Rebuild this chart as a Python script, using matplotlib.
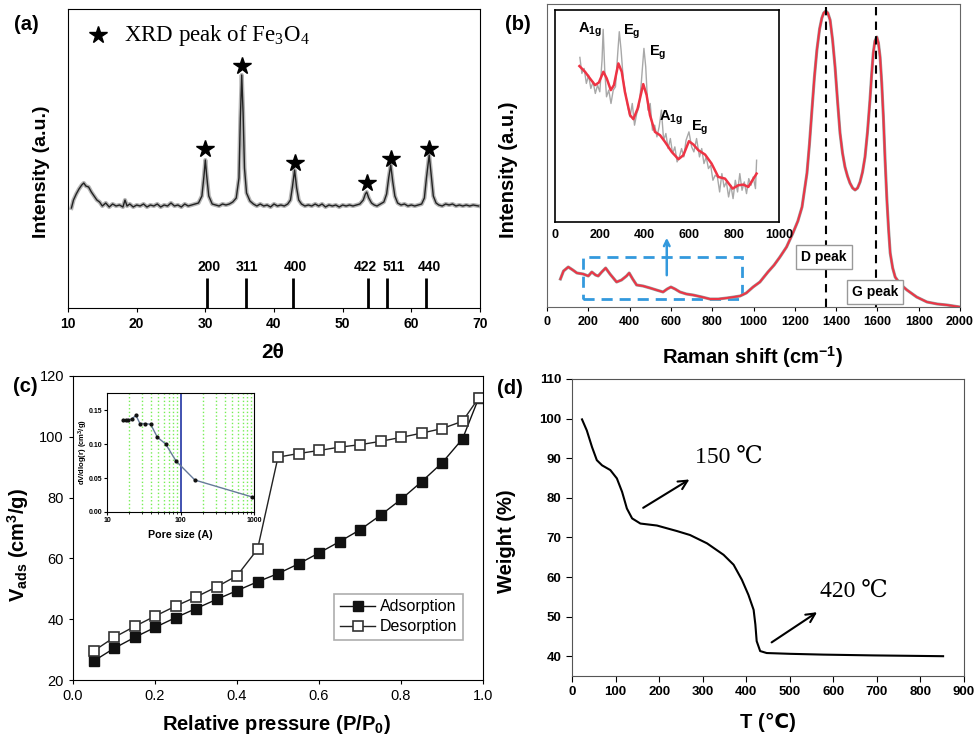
import matplotlib
matplotlib.use("Agg")
from matplotlib import pyplot as plt
from matplotlib.patches import Rectangle

plt.rcParams['font.family'] = ['Liberation Sans', 'DejaVu Sans']
plt.rcParams['mathtext.fontset'] = 'custom'
plt.rcParams['mathtext.rm'] = 'Liberation Serif'
plt.rcParams['mathtext.it'] = 'Liberation Serif:italic'
plt.rcParams['mathtext.bf'] = 'Liberation Sans:bold'

# (a) XRD
xrd_2theta = [10.5, 10.8, 11.2, 11.6, 12.0, 12.3, 12.6, 13.0, 13.4, 13.8, 14.2, 14.6, 15.0, 15.5, 16.0,
              16.5, 17.0, 17.5, 18.0, 18.3, 18.6, 19.0, 19.5, 20.0, 20.5, 21.0, 21.5, 22.0, 22.5, 23.0,
              23.5, 24.0, 24.5, 25.0, 25.5, 26.0, 26.5, 27.0, 27.5, 28.0, 28.5, 29.0, 29.5, 29.8, 30.0,
              30.2, 30.5, 31.0, 31.5, 32.0, 32.5, 33.0, 33.5, 34.0, 34.5, 34.9, 35.1, 35.3, 35.5, 35.7,
              36.0, 36.5, 37.0, 37.5, 38.0, 38.5, 39.0, 39.5, 40.0, 40.5, 41.0, 41.5, 42.0, 42.4, 42.7,
              43.0, 43.3, 43.6, 44.0, 44.5, 45.0, 45.5, 46.0, 46.5, 47.0, 47.5, 48.0, 48.5, 49.0, 49.5,
              50.0, 50.5, 51.0, 51.5, 52.0, 52.5, 53.0, 53.3, 53.5, 53.8, 54.2, 54.6, 55.0, 55.5, 56.0,
              56.4, 56.7, 57.0, 57.3, 57.6, 58.0, 58.5, 59.0, 59.5, 60.0, 60.5, 61.0, 61.5, 61.9, 62.2,
              62.6, 62.9, 63.2, 63.6, 64.0, 64.5, 65.0, 65.5, 66.0, 66.5, 67.0, 67.5, 68.0, 68.5, 69.0,
              69.8]
xrd_int = [100, 108, 114, 119, 123, 125, 122, 121, 116, 112, 108, 106, 102, 105, 101,
           104, 102, 103, 101, 108, 102, 104, 101, 103, 102, 104, 101, 103, 102, 104,
           101, 103, 102, 105, 102, 103, 101, 104, 102, 103, 104, 105, 112, 132, 148,
           132, 112, 104, 103, 102, 104, 103, 104, 106, 110, 130, 190, 233, 195, 140,
           115, 107, 104, 102, 104, 102, 103, 101, 104, 102, 103, 102, 104, 108, 122,
           138, 120, 108, 104, 102, 103, 102, 104, 102, 104, 101, 103, 102, 103, 101,
           103, 102, 103, 102, 103, 104, 108, 114, 116, 110, 105, 103, 102, 104, 106,
           114, 130, 143, 126, 112, 105, 103, 104, 102, 103, 102, 103, 104, 110, 130,
           153, 132, 112, 105, 103, 102, 104, 103, 104, 102, 103, 102, 103, 102, 103,
           102]
star_x = [30.0, 35.3, 43.0, 53.5, 57.0, 62.6]
star_y = [159, 242, 145, 125, 149, 159]
ref_pos = [30.2, 35.9, 42.8, 53.7, 56.4, 62.2]
ref_label_x = [30.5, 36.1, 43.1, 53.3, 57.5, 62.7]
ref_labels = ['200', '311', '400', '422', '511', '440']

# (b) Raman
raman_x = [65, 80, 103, 125, 145, 175, 200, 217, 235, 248, 265, 284, 305, 337, 361, 385, 398, 415,
           434, 465, 499, 530, 562, 582, 600, 620, 644, 675, 707, 750, 789, 830, 871, 905, 935, 965,
           998, 1031, 1070, 1100, 1128, 1160, 1191, 1215, 1235, 1259, 1271, 1283, 1295, 1307, 1320,
           1331, 1340, 1350, 1360, 1371, 1383, 1395, 1407, 1419, 1431, 1443, 1455, 1467, 1480, 1492,
           1504, 1516, 1528, 1540, 1552, 1564, 1572, 1580, 1588, 1597, 1605, 1613, 1621, 1629, 1637,
           1646, 1654, 1662, 1674, 1686, 1710, 1743, 1790, 1840, 1890, 1937, 2000]
raman_y = [28, 36, 40, 37, 34, 33, 31, 35, 32, 31, 35, 39, 33, 25, 27, 31, 34, 28,
           22, 21, 19, 17, 15, 18, 20, 18, 15, 13, 12, 10, 8, 8, 9, 10, 11, 14,
           20, 25, 35, 42, 50, 60, 74, 86, 100, 134, 163, 197, 230, 257, 278,
           289, 294, 296, 294, 287, 267, 240, 206, 174, 154, 140, 131, 124, 119, 117,
           119, 125, 135, 150, 175, 207, 232, 254, 266, 270, 264, 250, 224, 190, 148,
           107, 78, 54, 39, 30, 23, 17, 10, 5, 3, 2, 0]
inset_fit_x = [109, 134, 156, 179, 196, 216, 231, 249, 263, 283, 298, 312, 335, 350, 369, 394, 409,
               424, 446, 469, 491, 521, 551, 573, 598, 618, 640, 670, 699, 729, 759, 793, 818, 841,
               863, 900]
inset_fit_y = [467, 450, 430, 410, 418, 450, 430, 395, 410, 475, 450, 390, 320, 308, 340, 413, 380,
               320, 270, 260, 240, 210, 188, 200, 242, 232, 215, 202, 175, 135, 130, 100, 110, 112,
               105, 145]
inset_raw_x = [111, 120, 130, 140, 150, 160, 170, 180, 190, 200, 210, 215, 222, 230, 240, 250, 260,
               270, 280, 287, 295, 305, 315, 325, 335, 345, 355, 365, 375, 385, 397, 405, 415, 425,
               435, 445, 455, 465, 475, 485, 495, 505, 515, 525, 535, 545, 555, 565, 575, 585, 598,
               610, 620, 632, 645, 655, 665, 675, 685, 695, 705, 715, 725, 735, 745, 755, 765, 775,
               785, 795, 805, 815, 825, 835, 845, 855, 865, 875, 885, 895, 900]
inset_raw_y = [493, 445, 460, 415, 440, 400, 420, 385, 410, 390, 485, 577, 455, 375, 395, 355, 395,
               405, 505, 570, 515, 425, 385, 345, 315, 355, 290, 325, 345, 415, 520, 465, 335, 355,
               275, 290, 255, 285, 335, 245, 265, 220, 250, 205, 225, 180, 195, 220, 195, 245, 270,
               225, 210, 250, 195, 220, 175, 195, 160, 170, 125, 140, 135, 90, 145, 105, 120, 75,
               110, 70, 125, 90, 145, 95, 120, 85, 130, 110, 135, 100, 185]
mode_labels = [r'$\mathbf{A_{1g}}$', r'$\mathbf{E_g}$', r'$\mathbf{E_g}$', r'$\mathbf{A_{1g}}$', r'$\mathbf{E_g}$']
mode_x = [104, 305, 420, 465, 609]
mode_y = [575, 570, 507, 312, 283]

# (c) BET
p_rel = [0.05, 0.10, 0.15, 0.20, 0.25, 0.30, 0.35, 0.40, 0.45, 0.50, 0.55, 0.60, 0.65, 0.70,
         0.75, 0.80, 0.85, 0.90, 0.95, 0.99]
v_ads = [26.2, 30.4, 34.0, 37.3, 40.5, 43.5, 46.5, 49.4, 52.3, 55.0, 58.2, 61.8, 65.5, 69.4,
         74.2, 79.4, 85.2, 91.4, 99.3, 112.9]
v_des = [29.5, 34.0, 37.6, 41.0, 44.3, 47.3, 50.6, 54.3, 63.0, 93.3, 94.5, 95.5, 96.6, 97.4,
         98.5, 99.8, 101.2, 102.7, 105.1, 112.9]
pore_size = [16.7, 18.0, 19.5, 21.7, 24.8, 28.1, 32.9, 39.3, 48.4, 62.8, 86.9, 157, 950]
pore_dv = [0.135, 0.135, 0.135, 0.137, 0.142, 0.130, 0.130, 0.129, 0.110, 0.100, 0.075, 0.047, 0.022]

# (d) TGA
tga_t = [23, 34, 46, 57, 69, 88, 103, 115, 126, 138, 157, 195, 241, 271, 310, 348, 371, 390,
         405, 417, 421, 424, 432, 447, 501, 577, 692, 852]
tga_w = [99.8, 97.0, 92.8, 89.5, 88.2, 87.0, 84.9, 81.5, 77.3, 74.8, 73.5, 73.0, 71.6, 70.6,
         68.5, 65.6, 63.1, 59.3, 55.5, 51.7, 48.0, 43.8, 41.3, 40.8, 40.6, 40.4, 40.2, 40.0]

fig = plt.figure(figsize=(9.8, 7.44), dpi=100)


def box(l, t, w, h):
    return fig.add_axes([l / 980, 1 - (t + h) / 744, w / 980, h / 744])


def bold_ticks(ax, size):
    for lab in ax.get_xticklabels() + ax.get_yticklabels():
        lab.set_fontweight('bold')
        lab.set_fontsize(size)


def ftext(x, y, s, **kw):
    fig.text(x / 980, 1 - y / 744, s, ha='center', va='center', **kw)


# ---- (a)
ax = box(68, 9, 412, 299)
ax.plot(xrd_2theta, xrd_int, color='#b5b5b5', lw=3)
ax.plot(xrd_2theta, xrd_int, color='#222222', lw=1)
ax.plot(star_x, star_y, '*', color='k', ms=13)
ax.vlines(ref_pos, 0, 30, color='k', lw=2)
for px, lab in zip(ref_label_x, ref_labels):
    ax.text(px, 41, lab, ha='center', va='center', fontsize=10, fontweight='bold')
ax.plot([14.4], [273], '*', color='k', ms=13)
ax.text(18.1, 273, 'XRD peak of Fe$_3$O$_4$', family='Liberation Serif', fontsize=16.5, va='center')
ax.set_xlim(10, 70)
ax.set_ylim(0, 299)
ax.set_yticks([])
ax.set_xticks(range(10, 71, 10))
ax.tick_params(axis='x', length=3)
bold_ticks(ax, 10)
ftext(26, 25, '(a)', fontsize=14.5, fontweight='bold')
ftext(42, 172, 'Intensity (a.u.)', fontsize=14, fontweight='bold', rotation=90)
ftext(273, 353, '2θ', fontsize=15, fontweight='bold')

# ---- (b)
ax = box(547, 4, 413, 303)
ax.plot(raman_x, raman_y, color='#9a9a9a', lw=2.2)
ax.plot(raman_x, raman_y, color='#ee3344', lw=1.4)
ax.axvline(1350, color='k', lw=1.5, ls=(0, (4, 3)))
ax.axvline(1595, color='k', lw=1.5, ls=(0, (4, 3)))
ax.add_patch(Rectangle((175, 8), 770, 42, fill=False, ec='#3399dd', lw=2, ls=(0, (4, 2.5))))
ax.annotate('', xy=(580, 72), xytext=(580, 29),
            arrowprops=dict(arrowstyle='->', color='#3399dd', lw=1.8))
ax.text(1341, 50, 'D peak', ha='center', va='center', fontsize=10, fontweight='bold',
        bbox=dict(boxstyle='square,pad=0.35', fc='white', ec='#999999'))
ax.text(1588, 15, 'G peak', ha='center', va='center', fontsize=10, fontweight='bold',
        bbox=dict(boxstyle='square,pad=0.35', fc='white', ec='#999999'))
ax.set_xlim(0, 2000)
ax.set_ylim(0, 303)
ax.set_yticks([])
ax.set_xticks(range(0, 2001, 200))
ax.tick_params(axis='x', length=3)
for s in ax.spines.values():
    s.set_color('#666666')
bold_ticks(ax, 9)

axi = box(555, 10, 224, 212)
axi.plot(inset_raw_x, inset_raw_y, color='#a8a8a8', lw=1)
axi.plot(inset_fit_x, inset_fit_y, color='#ee3344', lw=1.8)
for lab, mx, my in zip(mode_labels, mode_x, mode_y):
    axi.text(mx, my, lab, ha='left', va='center', fontsize=10.5)
axi.set_xlim(0, 1000)
axi.set_ylim(0, 635)
axi.set_yticks([])
axi.set_xticks(range(0, 1001, 200))
axi.tick_params(axis='x', length=0, pad=5)
for s in axi.spines.values():
    s.set_linewidth(1.2)
bold_ticks(axi, 9)
ftext(518, 25, '(b)', fontsize=14.5, fontweight='bold')
ftext(508, 170, 'Intensity (a.u.)', fontsize=14.5, fontweight='bold', rotation=90)
ftext(753, 357, r'Raman shift (cm$^{\mathbf{-1}}$)', fontsize=14.5, fontweight='bold')

# ---- (c)
ax = box(73, 376, 410, 304)
ax.plot(p_rel, v_ads, '-s', color='#111111', mfc='#111111', mec='#111111', ms=7.5, lw=1,
        label='Adsorption')
ax.plot(p_rel, v_des, '-s', color='#222222', mfc='white', mec='#333333', ms=7.5, mew=1.2, lw=1,
        label='Desorption')
ax.set_xlim(0, 1.0)
ax.set_ylim(20, 120)
ax.set_xticks([0.0, 0.2, 0.4, 0.6, 0.8, 1.0])
ax.set_xticklabels(['0.0', '0.2', '0.4', '0.6', '0.8', '1.0'])
ax.set_yticks(range(20, 121, 20))
ax.tick_params(labelsize=10.5, length=3)
leg = ax.legend(loc='lower right', bbox_to_anchor=(0.951, 0.132), borderaxespad=0, fontsize=11.5,
                fancybox=False, edgecolor='#999999', handlelength=2.2, handletextpad=0.3,
                labelspacing=0.3, borderpad=0.35)
leg.get_frame().set_linewidth(1.2)
ftext(25, 387, '(c)', fontsize=14.5, fontweight='bold')
ftext(18, 545, r'$\mathbf{V_{ads}}$ (cm$^\mathbf{3}$/g)', fontsize=14.5, fontweight='bold', rotation=90)
ftext(276, 724, r'Relative pressure (P/P$_\mathbf{0}$)', fontsize=14.5, fontweight='bold')

axp = box(107, 393, 147, 119)
axp.set_xscale('log')
axp.set_xlim(10, 1000)
axp.set_ylim(0, 0.175)
axp.grid(True, which='minor', axis='x', color='#77ee55', ls=':', lw=1)
axp.axvline(100, color='#3344aa', lw=1.3)
axp.plot(pore_size, pore_dv, '-', color='#667a99', lw=1)
axp.plot(pore_size, pore_dv, '.', color='#111111', ms=4)
axp.set_xticks([10, 100, 1000])
axp.set_xticklabels(['10', '100', '1000'])
axp.set_yticks([0.0, 0.05, 0.10, 0.15])
axp.set_yticklabels(['0.00', '0.05', '0.10', '0.15'])
axp.tick_params(which='both', length=2, pad=1.5)
axp.tick_params(axis='x', which='minor', length=1.5, labelbottom=False)
bold_ticks(axp, 5)
ftext(83, 452, r'dV/dlog(r) (cm$^\mathbf{3}$/g)', fontsize=5.5, fontweight='bold', rotation=90)
ftext(180, 535, 'Pore size (A)', fontsize=7.7, fontweight='bold')

# ---- (d)
ax = box(572, 379, 392, 297)
ax.plot(tga_t, tga_w, color='k', lw=1.5)
ax.annotate('', xy=(275, 85.0), xytext=(158, 77.1),
            arrowprops=dict(arrowstyle='->', color='k', lw=1.5, mutation_scale=16))
ax.annotate('', xy=(568, 51.5), xytext=(453, 43.1),
            arrowprops=dict(arrowstyle='->', color='k', lw=1.5, mutation_scale=16))
serif = ['Liberation Serif', 'DejaVu Serif', 'Noto Sans CJK SC']
ax.text(283, 90.3, '150 ℃', family=serif, fontsize=17, va='center')
ax.text(570, 56.3, '420 ℃', family=serif, fontsize=17, va='center')
ax.set_xlim(0, 900)
ax.set_ylim(35, 110)
ax.set_xticks(range(0, 901, 100))
ax.set_yticks(range(40, 111, 10))
ax.tick_params(length=4)
for s in ax.spines.values():
    s.set_color('#555555')
bold_ticks(ax, 9.5)
ftext(510, 389, '(d)', fontsize=14.5, fontweight='bold')
ftext(507, 541, 'Weight (%)', fontsize=14.5, fontweight='bold', rotation=90)
ftext(768, 722, 'T (℃)', fontsize=14.5, fontweight='bold')

fig.savefig('out.png', dpi=100)
